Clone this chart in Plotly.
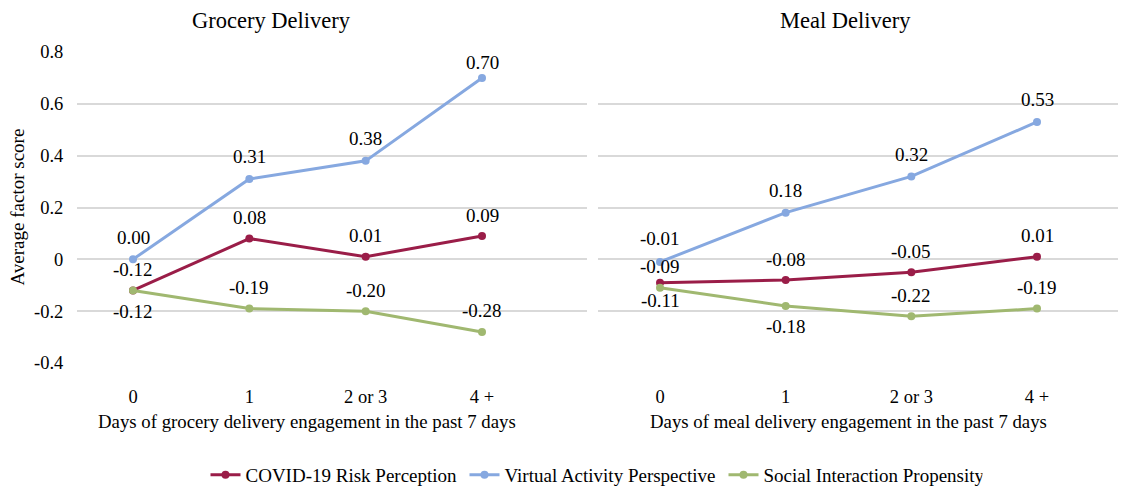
import plotly.graph_objects as go

categories = ["0", "1", "2 or 3", "4 +"]
series_names = ["COVID-19 Risk Perception", "Virtual Activity Perspective", "Social Interaction Propensity"]

grocery_covid = [-0.12, 0.08, 0.01, 0.09]
grocery_virtual = [0.00, 0.31, 0.38, 0.70]
grocery_social = [-0.12, -0.19, -0.20, -0.28]

meal_covid = [-0.09, -0.08, -0.05, 0.01]
meal_virtual = [-0.01, 0.18, 0.32, 0.53]
meal_social = [-0.11, -0.18, -0.22, -0.19]

y_tickvals = [-0.4, -0.2, 0, 0.2, 0.4, 0.6, 0.8]
y_ticktext = ["-0.4", "-0.2", "0", "0.2", "0.4", "0.6", "0.8"]

panel_titles = ["Grocery Delivery", "Meal Delivery"]
x_titles = ["Days of grocery delivery engagement in the past 7 days",
            "Days of meal delivery engagement in the past 7 days"]
y_title = "Average factor score"

# data-label vertical offsets in px (positive = above the point, negative = below)
grocery_label_shift = [[21, 21, 21, 21], [22, 22, 22, 15], [-21, 21, 21, 21]]
meal_label_shift = [[16, 21, 21, 21], [23, 22, 22, 22], [-13, -21, 21, 21]]

colors = ["#9A1D48", "#86A8E0", "#A0B870"]
FONT = "Liberation Serif"

W, H = 1126, 486
OFF = 8  # page body margin offset in the browser

fig = go.Figure()

panels = [
    ([grocery_covid, grocery_virtual, grocery_social], grocery_label_shift, "x", "y"),
    ([meal_covid, meal_virtual, meal_social], meal_label_shift, "x2", "y2"),
]

annotations = []
for p, (vals_list, shift_list, xa, ya) in enumerate(panels):
    for s, (vals, shifts) in enumerate(zip(vals_list, shift_list)):
        fig.add_trace(go.Scatter(
            x=list(range(len(categories))), y=vals, xaxis=xa, yaxis=ya,
            mode="lines+markers", name=series_names[s],
            line=dict(color=colors[s], width=3),
            marker=dict(color=colors[s], size=8),
            showlegend=(p == 0),
        ))
        for i, v in enumerate(vals):
            annotations.append(dict(
                x=i, y=v, xref=xa, yref=ya, text=f"{v:.2f}", showarrow=False,
                xanchor="center", yanchor="middle",
                yshift=shifts[i], font=dict(family=FONT, size=19, color="black"),
            ))

# plot area geometry in screen pixels, converted to figure pixels
top, bottom = 52 - OFF, 364 - OFF
mt, mb = top, H - bottom
ph = bottom - top
def py(spx):
    return (bottom - (spx - OFF)) / ph
def px(spx):
    return (spx - OFF) / W

def xrange_for(left_px, right_px, first_px, last_px, n):
    unit = (last_px - first_px) / (n - 1)
    return [(left_px - first_px) / unit, (right_px - first_px) / unit]

n = len(categories)
xd1 = [px(77), px(587)]
xd2 = [px(598), px(1134)]
xr1 = xrange_for(77, 587, 133, 482, n)
xr2 = xrange_for(598, 1134, 660, 1037, n)

axis_common = dict(
    tickmode="array", tickvals=list(range(n)), ticktext=categories,
    showgrid=False, zeroline=False, showline=False,
    ticks="outside", ticklen=17, tickcolor="rgba(0,0,0,0)",
    tickfont=dict(family=FONT, size=18.5, color="black"), automargin=False,
)
fig.update_layout(
    xaxis=dict(domain=xd1, range=xr1, anchor="y", **axis_common),
    xaxis2=dict(domain=xd2, range=xr2, anchor="y2", **axis_common),
    yaxis=dict(domain=[0, 1], range=[-0.4, 0.8], anchor="x",
               tickmode="array", tickvals=y_tickvals, ticktext=y_ticktext,
               showgrid=True, gridcolor="#D9D9D9", gridwidth=1.5, zeroline=False,
               showline=False, ticks="outside", ticklen=9, tickcolor="rgba(0,0,0,0)",
               tickfont=dict(family=FONT, size=18.5, color="black"), automargin=False),
    yaxis2=dict(domain=[0, 1], range=[-0.4, 0.8], anchor="x2",
                tickmode="array", tickvals=y_tickvals, showticklabels=False,
                showgrid=True, gridcolor="#D9D9D9", gridwidth=1.5, zeroline=False,
                showline=False, automargin=False),
)

def paper_text(text, xs, ys, size, angle=0):
    return dict(text=text, x=px(xs), y=py(ys), xref="paper", yref="paper",
                xanchor="center", yanchor="middle", textangle=angle,
                showarrow=False, font=dict(family=FONT, size=size, color="black"))

annotations += [
    paper_text(panel_titles[0], 271, 20, 22.5),
    paper_text(panel_titles[1], 845, 20, 22.5),
    paper_text(x_titles[0], 307, 423, 18.8),
    paper_text(x_titles[1], 848, 423, 18.8),
    paper_text(y_title, 17, 208, 19, -90),
]

fig.update_layout(
    width=W, height=H, template="none",
    paper_bgcolor="white", plot_bgcolor="white",
    margin=dict(l=0, r=0, t=mt, b=mb, pad=0),
    annotations=annotations,
    showlegend=True,
    legend=dict(orientation="h", x=px(594), xanchor="center", y=py(476), yanchor="middle",
                font=dict(family=FONT, size=19, color="black"), bgcolor="rgba(0,0,0,0)",
                itemwidth=30, tracegroupgap=0, entrywidth=214, entrywidthmode="pixels"),
)

fig.write_html("out.html")
